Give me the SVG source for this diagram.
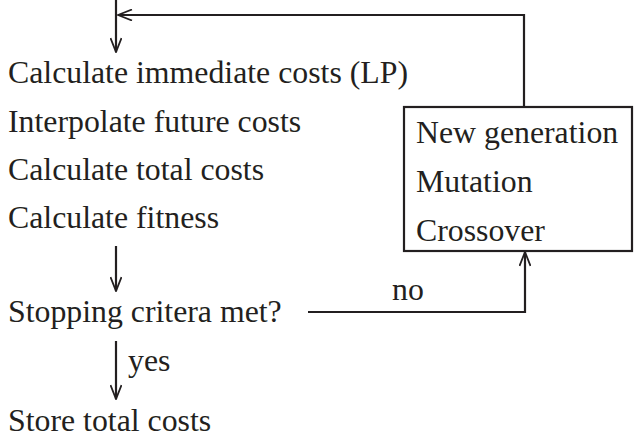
<svg xmlns="http://www.w3.org/2000/svg" width="636" height="439" viewBox="0 0 636 439">
<defs>
<style>
text{font-family:"Liberation Serif","Times New Roman",serif;font-size:31.8px;fill:#231f20}
.ln{fill:none;stroke:#231f20;stroke-width:2.2}
</style>
<marker id="ah" viewBox="0 0 16 12" refX="15" refY="6" markerWidth="16" markerHeight="12" markerUnits="userSpaceOnUse" orient="auto">
<path d="M1,0.5 L15,6 L1,11.5" fill="none" stroke="#231f20" stroke-width="1.8"/>
</marker>
</defs>
<rect width="636" height="439" fill="#fff"/>
<g id="connectors">
<path class="ln" d="M116,0 V52" marker-end="url(#ah)"/>
<path class="ln" d="M524,107 V15 H118" marker-end="url(#ah)"/>
<path class="ln" d="M116,246 V291" marker-end="url(#ah)"/>
<path class="ln" d="M116,341 V399" marker-end="url(#ah)"/>
<path class="ln" d="M308,312 H525 V252" marker-end="url(#ah)"/>
<text x="392" y="300">no</text>
<text x="128" y="371">yes</text>
</g>
<g id="evaluate">
<text x="8" y="83">Calculate immediate costs (LP)</text>
<text x="8" y="132">Interpolate future costs</text>
<text x="8" y="180">Calculate total costs</text>
<text x="8" y="228">Calculate fitness</text>
</g>
<g id="genetic">
<rect class="ln" x="404" y="107" width="228" height="144"/>
<text x="416" y="143">New generation</text>
<text x="416" y="192">Mutation</text>
<text x="416" y="241">Crossover</text>
</g>
<g id="stop">
<text x="8" y="322">Stopping critera met?</text>
</g>
<g id="store">
<text x="8" y="431">Store total costs</text>
</g>
</svg>
